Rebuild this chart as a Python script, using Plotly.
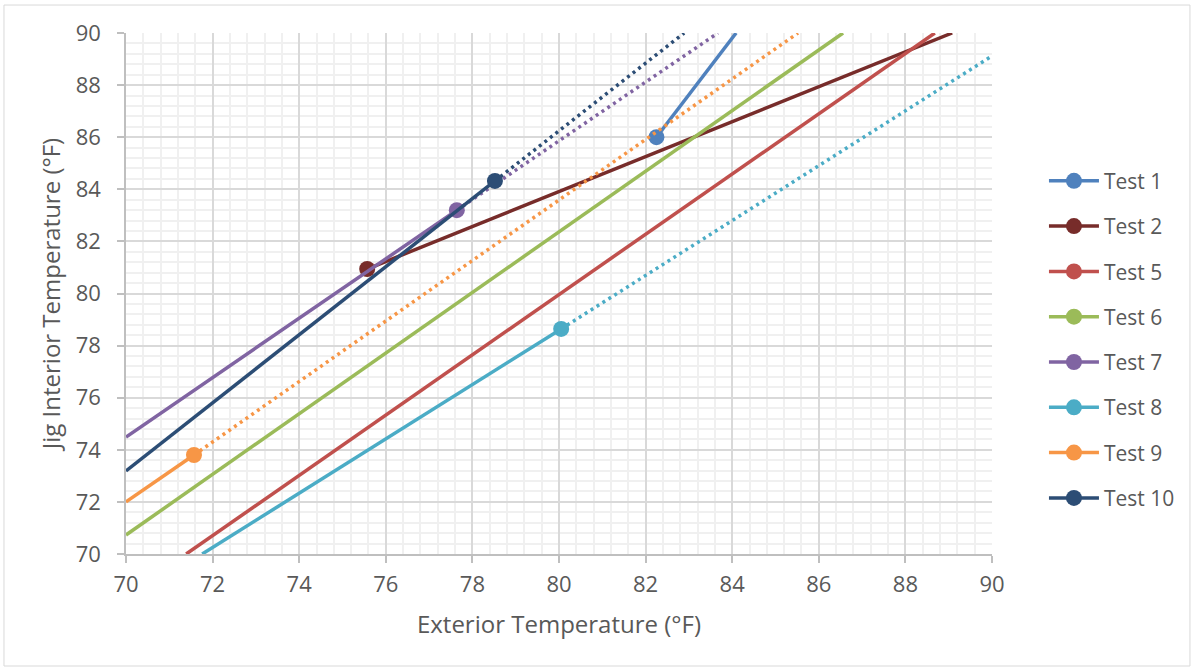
import plotly.graph_objects as go

# ---- data ----
tests = ["Test 1", "Test 2", "Test 5", "Test 6", "Test 7", "Test 8", "Test 9", "Test 10"]
colors = ["#4F81BD", "#772C2A", "#C0504D", "#9BBB59", "#8064A2", "#4BACC6", "#F79646", "#2C4D75"]

# measured data point for each test (None = outside view)
point_x = [82.25, 75.57, None, None, 77.64, 80.05, 71.57, 78.52]
point_y = [86.00, 80.94, None, None, 83.20, 78.64, 73.80, 84.32]

# solid fitted segment (start, end)
solid_x = [[82.25, 84.09], [75.57, 89.08], [71.39, 88.68], [70.0, 86.56], [70.0, 77.64], [71.76, 80.05], [70.0, 71.57], [70.0, 78.52]]
solid_y = [[86.00, 90.00], [80.94, 90.00], [70.00, 90.00], [70.73, 90.00], [74.49, 83.20], [70.00, 78.64], [72.00, 73.80], [73.19, 84.32]]

# dotted extrapolation (start, end)
dot_x = [None, None, None, None, [77.64, 83.67], [80.05, 90.0], [71.57, 85.52], [78.52, 82.89]]
dot_y = [None, None, None, None, [83.20, 90.00], [78.64, 89.12], [73.80, 90.00], [84.32, 90.00]]

x_ticks = list(range(70, 91, 2))
y_ticks = list(range(70, 91, 2))

fig = go.Figure()
for i, name in enumerate(tests):
    c = colors[i]
    fig.add_trace(go.Scatter(x=solid_x[i], y=solid_y[i], mode="lines",
                             line=dict(color=c, width=3.5), showlegend=False,
                             legendgroup=name, hoverinfo="skip"))
    if dot_x[i] is not None:
        fig.add_trace(go.Scatter(x=dot_x[i], y=dot_y[i], mode="lines",
                                 line=dict(color=c, width=3.5, dash="3px,4px"),
                                 showlegend=False, legendgroup=name, hoverinfo="skip"))
    px = [point_x[i]] if point_x[i] is not None else [None]
    py = [point_y[i]] if point_y[i] is not None else [None]
    fig.add_trace(go.Scatter(x=px, y=py, mode="lines+markers", name=name,
                             legendgroup=name,
                             line=dict(color=c, width=3.5),
                             marker=dict(color=c, size=16)))

grid_major = "#D9D9D9"
axis_line = "#BFBFBF"
txt = "#595959"
font_family = "'Open Sans', sans-serif"

common_axis = dict(
    range=[70, 90], dtick=2, tick0=70,
    showgrid=True, gridcolor=grid_major, gridwidth=1.5,
    showline=True, linecolor=axis_line, linewidth=1.5,
    ticks="outside", ticklen=7, tickcolor=axis_line, tickwidth=1.5,
    tickfont=dict(size=22, color=txt, family=font_family),
    zeroline=False,
    minor=dict(dtick=0.4, showgrid=True, gridcolor="#F0F0F0", gridwidth=1.5, ticks=""),
    fixedrange=True,
)

fig.update_layout(
    width=1194, height=670,
    margin=dict(l=126, r=202, t=33, b=116),
    paper_bgcolor="white", plot_bgcolor="white",
    font=dict(family=font_family, color=txt),
    xaxis=dict(common_axis, tickvals=x_ticks, ticklabelstandoff=3,
               title=dict(text="Exterior Temperature (°F)", font=dict(size=24, color=txt), standoff=19)),
    yaxis=dict(common_axis, tickvals=y_ticks, ticklabelstandoff=12,
               title=dict(text="Jig Interior Temperature (°F)", font=dict(size=24, color=txt), standoff=8)),
    legend=dict(x=1.0600, y=0.755, xanchor="left", yanchor="top",
                font=dict(size=21, color=txt, family=font_family),
                itemwidth=50,
                tracegroupgap=15, bgcolor="rgba(0,0,0,0)"),
    shapes=[dict(type="rect", xref="paper", yref="paper",
                 x0=-0.1409, x1=1.2286, y0=-0.215, y1=1.0537,
                 line=dict(color="#D9D9D9", width=1), layer="below")],
)

fig.write_html("out.html")
